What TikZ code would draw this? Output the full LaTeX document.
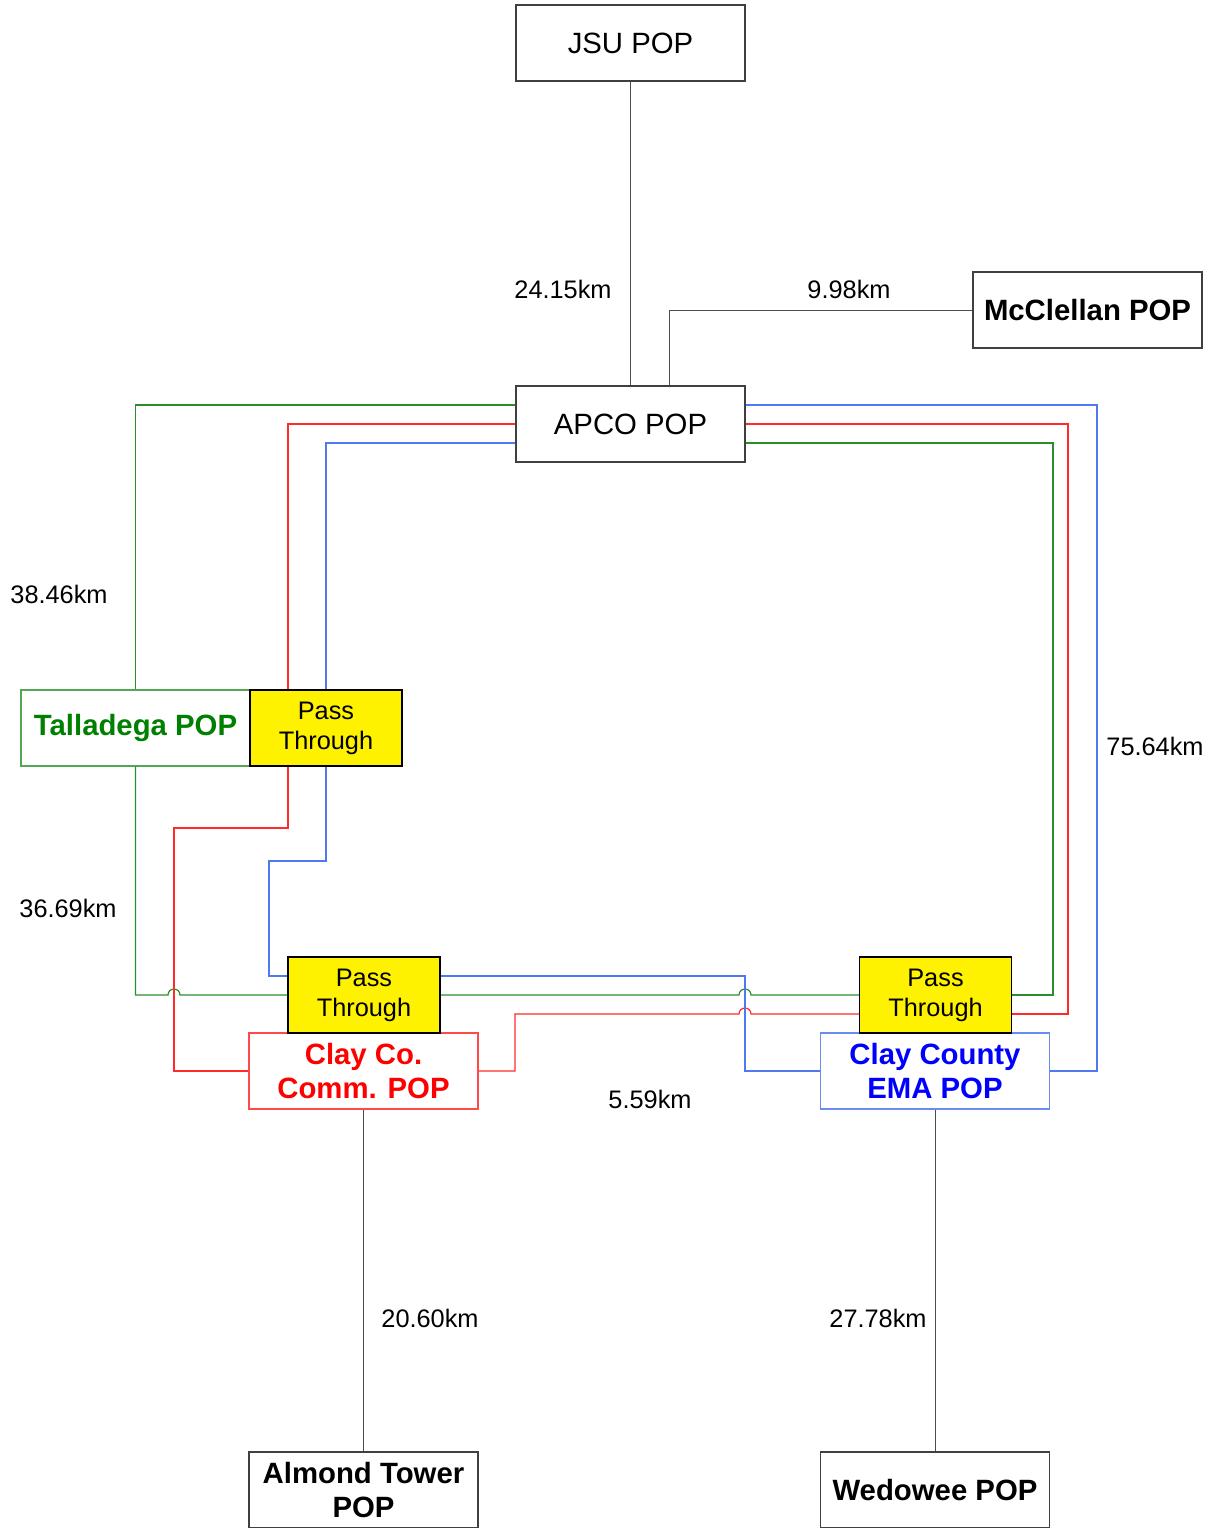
\documentclass[tikz,border=0pt]{standalone}
\usepackage{fontspec}
\setmainfont{Liberation Sans}
\usetikzlibrary{positioning}
\definecolor{popgreen}{HTML}{008000}
\definecolor{popred}{HTML}{FF0000}
\definecolor{popblue}{HTML}{0000FF}
\definecolor{greenline}{HTML}{2A8F2A}
\definecolor{redline}{HTML}{FF2A2A}
\definecolor{blueline}{HTML}{5078F0}
\tikzset{
  popbox/.style={draw=black!75,fill=white,line width=0.8pt,minimum width=171.75pt,minimum height=57pt,inner sep=0pt,align=center,font=\fontsize{22}{26}\selectfont},
  popbold/.style={popbox,font=\fontsize{22}{26}\selectfont\bfseries},
  passbox/.style={draw=black,fill=yellow,line width=0.9pt,minimum width=114pt,minimum height=57pt,inner sep=0pt,align=center,font=\fontsize{19}{22.5}\selectfont},
  kmlabel/.style={font=\fontsize{19}{22}\selectfont,inner sep=0pt},
  blkline/.style={draw=black!70,line width=0.75pt},
  grnline/.style={draw=greenline,line width=0.9pt},
  redlink/.style={draw=redline,line width=0.9pt},
  bluelink/.style={draw=blueline,line width=0.9pt}
}
\begin{document}
\begin{tikzpicture}[x=0.75pt,y=-0.75pt]
\useasboundingbox (0,0) rectangle (1216,1528);
% sites
\node[popbox] (jsu) at (630.5,43) {JSU POP};
\node[popbox] (apco) at (630.5,424) {APCO POP};
\node[popbold] (mcc) at (1087.5,310) {McClellan POP};
\node[popbold,draw=greenline!80,text=popgreen] (tal) at (135.5,728) {Talladega POP};
\node[popbold,draw=redline!85,text=popred] (clay) at (363.5,1071) {Clay Co.\\Comm. POP};
\node[popbold,draw=blueline!85,text=popblue] (ema) at (935,1071) {Clay County\\EMA POP};
\node[popbold] (alm) at (363.5,1490) {Almond Tower\\POP};
\node[popbold] (wed) at (935,1490) {Wedowee POP};
% black links
\draw[blkline] (jsu) -- (apco);
\draw[blkline] (mcc.west) -| ([xshift=28.9pt]apco.north);
\draw[blkline] (clay) -- (alm);
\draw[blkline] (ema) -- (wed);
% green ring
\draw[grnline] ([yshift=14.25pt]apco.west) -| (tal.north);
\draw[grnline] (tal.south) |- (168,995) arc[start angle=180,end angle=360,radius=6] -- (288,995);
\draw[grnline] (440,995) -- (739,995) arc[start angle=180,end angle=360,radius=6] -- (859,995);
\draw[grnline] (1012,995) -| (1053,443) -- ([yshift=-14.25pt]apco.east);
% red ring
\draw[redlink] (apco.west) -| (288,690);
\draw[redlink] (288,766) |- (174,828) |- (clay.west);
\draw[redlink] (clay.east) -| (515,1014) -- (739,1014) arc[start angle=180,end angle=360,radius=6] -- (859,1014);
\draw[redlink] (1012,1014) -| (1068,424) -- (apco.east);
% blue ring
\draw[bluelink] ([yshift=-14.25pt]apco.west) -| (326,690);
\draw[bluelink] (326,766) |- (269,861) |- (288,976);
\draw[bluelink] (440,976) -| (745,1071) -- (ema.west);
\draw[bluelink] (ema.east) -| (1097,405) -- ([yshift=14.25pt]apco.east);
% pass through
\node[passbox] (pt1) at (326,728) {Pass\\Through};
\node[passbox] (pt2) at (364,995) {Pass\\Through};
\node[passbox] (pt3) at (935.5,995) {Pass\\Through};
% distances
\node[kmlabel] (d1) at (563,289) {24.15km};
\node[kmlabel] (d2) at (849,289) {9.98km};
\node[kmlabel] (d3) at (59,594) {38.46km};
\node[kmlabel] (d4) at (1155,746) {75.64km};
\node[kmlabel] (d5) at (68,908) {36.69km};
\node[kmlabel] (d6) at (650,1099) {5.59km};
\node[kmlabel] (d7) at (430,1318) {20.60km};
\node[kmlabel] (d8) at (878,1318) {27.78km};
\end{tikzpicture}
\end{document}
